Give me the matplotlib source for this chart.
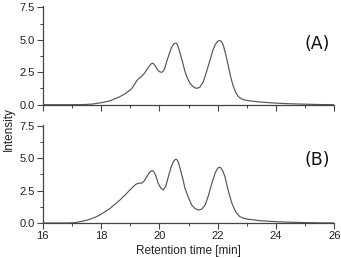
import matplotlib
matplotlib.use("Agg")
import matplotlib.pyplot as plt
from matplotlib.ticker import MultipleLocator

# retention time [min] and intensity
time_a = [16.0, 17.0, 17.4, 17.7, 18.0, 18.3, 18.65, 18.85, 19.0, 19.08, 19.15, 19.22,
          19.3, 19.39, 19.5, 19.6, 19.68, 19.72, 19.76, 19.8, 19.87, 19.94, 20.02,
          20.1, 20.18, 20.25, 20.33, 20.42, 20.5, 20.54, 20.57, 20.6, 20.64, 20.71,
          20.8, 20.88, 20.96, 21.05, 21.15, 21.26, 21.38, 21.51, 21.62, 21.74, 21.83,
          21.91, 21.99, 22.03, 22.06, 22.09, 22.14, 22.19, 22.28, 22.37, 22.45, 22.54,
          22.62, 22.71, 22.82, 22.94, 23.1, 23.34, 23.55, 23.8, 24.1, 24.37, 24.8,
          25.2, 25.6, 26.0]
intensity_a = [0.0, 0.0, 0.01, 0.05, 0.15, 0.29, 0.62, 0.88, 1.13, 1.32, 1.58, 1.83,
               2.02, 2.18, 2.45, 2.8, 3.05, 3.15, 3.19, 3.15, 2.95, 2.68, 2.52,
               2.5, 2.75, 3.3, 3.85, 4.42, 4.68, 4.73, 4.74, 4.7, 4.5, 3.97,
               3.25, 2.55, 2.05, 1.65, 1.4, 1.26, 1.32, 1.78, 2.55, 3.45, 4.15,
               4.6, 4.86, 4.92, 4.94, 4.92, 4.82, 4.6, 3.85, 2.93, 2.1, 1.39,
               0.95, 0.62, 0.45, 0.36, 0.3, 0.23, 0.19, 0.15, 0.11, 0.08, 0.05,
               0.03, 0.01, 0.0]

time_b = [16.0, 16.9, 17.1, 17.28, 17.45, 17.62, 17.8, 17.96, 18.13, 18.31, 18.48,
          18.65, 18.82, 18.99, 19.1, 19.2, 19.3, 19.39, 19.48, 19.57, 19.66, 19.72,
          19.76, 19.8, 19.88, 19.96, 20.05, 20.14, 20.22, 20.31, 20.4, 20.48, 20.53,
          20.57, 20.61, 20.66, 20.71, 20.8, 20.88, 21.0, 21.11, 21.22, 21.34, 21.46,
          21.57, 21.68, 21.8, 21.92, 22.0, 22.05, 22.1, 22.17, 22.25, 22.33, 22.42,
          22.5, 22.59, 22.67, 22.76, 22.9, 23.05, 23.45, 24.02, 24.5, 25.0, 25.5, 26.0]
intensity_b = [0.0, 0.0, 0.03, 0.1, 0.18, 0.29, 0.44, 0.62, 0.86, 1.13, 1.45,
               1.78, 2.15, 2.55, 2.8, 3.0, 3.08, 3.08, 3.25, 3.58, 3.9, 4.02,
               4.05, 4.0, 3.65, 3.07, 2.7, 2.55, 2.85, 3.58, 4.3, 4.74, 4.88,
               4.93, 4.88, 4.65, 4.23, 3.45, 2.68, 1.95, 1.39, 1.12, 1.0, 1.08,
               1.39, 2.1, 3.07, 3.9, 4.22, 4.31, 4.28, 4.05, 3.58, 2.8, 2.03,
               1.45, 1.0, 0.7, 0.49, 0.36, 0.29, 0.18, 0.1, 0.06, 0.03, 0.01, 0.0]

panel_labels = ["(A)", "(B)"]
x_ticks = [16, 18, 20, 22, 24, 26]
y_ticks = [0.0, 2.5, 5.0, 7.5]

plt.rcParams['font.family'] = ['Liberation Sans', 'DejaVu Sans']

fig = plt.figure(figsize=(3.41, 2.58), dpi=100)
ax_a = fig.add_axes([0.1252, 0.5942, 0.8552, 0.3826])
ax_b = fig.add_axes([0.1252, 0.1357, 0.8552, 0.381])

line_col = "#555555"
spine_col = "#444444"

for ax, t, y, lab, ly in [(ax_a, time_a, intensity_a, panel_labels[0], 0.615),
                          (ax_b, time_b, intensity_b, panel_labels[1], 0.64)]:
    ax.plot(t, y, color=line_col, lw=0.85, solid_joinstyle="round")
    ax.set_xlim(16, 26)
    ax.set_ylim(0, 7.6)
    ax.set_xticks(x_ticks)
    ax.set_yticks(y_ticks)
    ax.set_yticklabels(["%.1f" % v for v in y_ticks])
    ax.xaxis.set_minor_locator(MultipleLocator(1))
    ax.yaxis.set_minor_locator(MultipleLocator(1.25))
    for s in ["top", "right"]:
        ax.spines[s].set_visible(False)
    for s in ["left", "bottom"]:
        ax.spines[s].set_color(spine_col)
        ax.spines[s].set_linewidth(0.9)
    ax.tick_params(which="major", direction="out", length=4, width=0.8,
                   color=spine_col, labelsize=8, pad=1.5, labelcolor="#222222")
    ax.tick_params(which="minor", direction="out", length=2, width=0.7,
                   color=spine_col)
    ax.text(0.94, ly, lab, transform=ax.transAxes,
            fontsize=12.5, family="DejaVu Sans", ha="center", va="center",
            color="#111111")

ax_a.tick_params(labelbottom=False)
ax_b.set_xlabel("Retention time [min]", fontsize=8.5, labelpad=3, color="#222222")
fig.text(0.025, 0.5, "Intensity", rotation=90, ha="center", va="center",
         fontsize=8.5, color="#222222")

fig.savefig("out.png", dpi=100)
